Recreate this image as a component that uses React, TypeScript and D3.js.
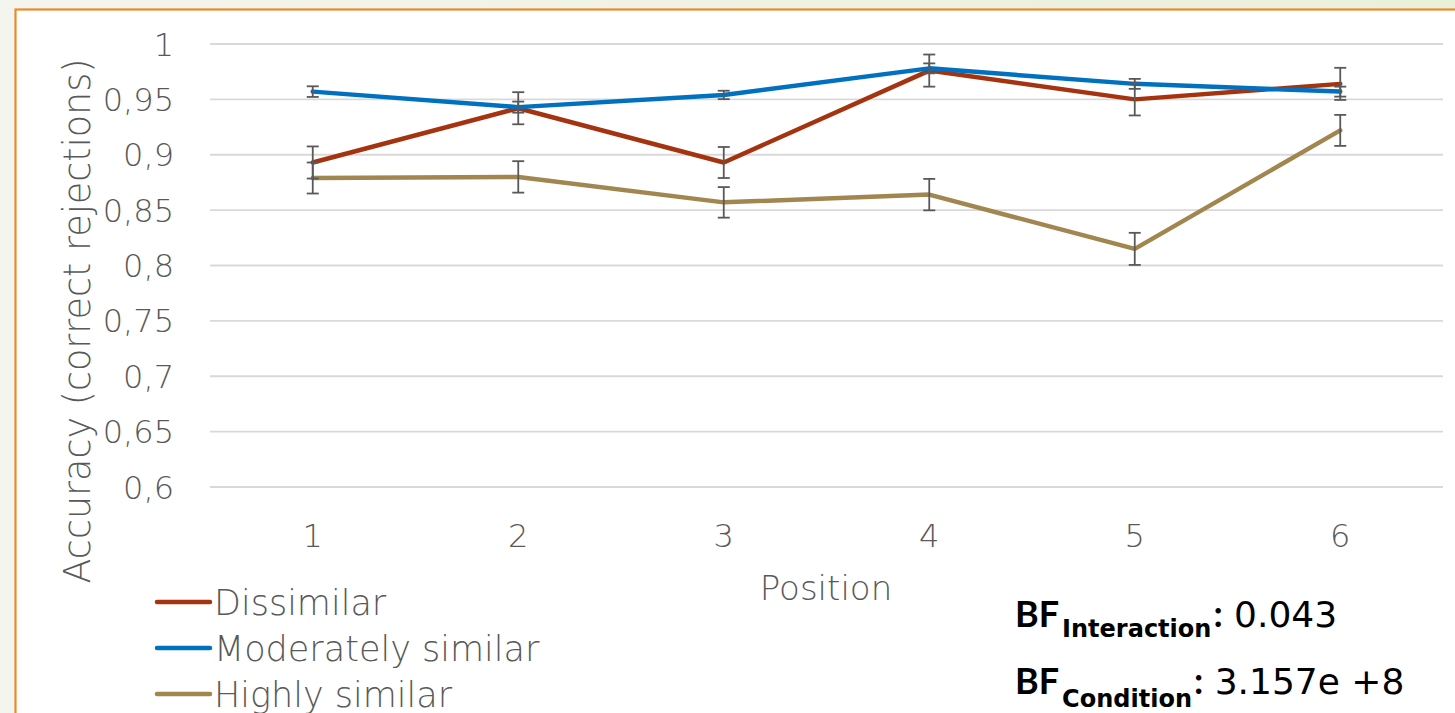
import React, { useEffect, useRef } from "react";
import * as d3 from "d3";

// chart data
const positions = ["1", "2", "3", "4", "5", "6"];
const dissimilar = [0.893, 0.942, 0.893, 0.976, 0.95, 0.964];
const dissimilarErr = [0.0145, 0.0145, 0.014, 0.0145, 0.0145, 0.0145];
const moderately = [0.957, 0.943, 0.954, 0.978, 0.964, 0.957];
const moderatelyErr = [0.0048, 0.005, 0.0038, 0.0045, 0.0045, 0.0045];
const highly = [0.879, 0.88, 0.857, 0.864, 0.815, 0.922];
const highlyErr = [0.014, 0.0142, 0.0138, 0.0142, 0.0145, 0.014];
const yTicks = [0.6, 0.65, 0.7, 0.75, 0.8, 0.85, 0.9, 0.95, 1];
const seriesNames = ["Dissimilar", "Moderately similar", "Highly similar"];
const seriesColors = ["#a5330f", "#0070c0", "#a2864f"];

const FONT = "'Century Gothic', 'DejaVu Sans', sans-serif";
const BOLD_FONT = "'Century Gothic', Lato, sans-serif";

export default function App() {
  const ref = useRef<SVGSVGElement | null>(null);

  useEffect(() => {
    const svgWidth = 1455,
      svgHeight = 713;
    const svg = d3.select(ref.current).attr("width", svgWidth).attr("height", svgHeight);
    svg.selectAll("*").remove();

    // slide background + white chart frame
    const defs = svg.append("defs");
    const grad = defs.append("linearGradient").attr("id", "bg").attr("x1", 0).attr("x2", 1);
    grad.append("stop").attr("offset", "0%").attr("stop-color", "#f4f5ee");
    grad.append("stop").attr("offset", "100%").attr("stop-color", "#e9f0da");
    svg.append("rect").attr("width", svgWidth).attr("height", svgHeight).attr("fill", "url(#bg)");
    svg
      .append("rect")
      .attr("x", 15.5)
      .attr("y", 9.5)
      .attr("width", svgWidth)
      .attr("height", svgHeight)
      .attr("fill", "#ffffff")
      .attr("stroke", "#ea8a2c")
      .attr("stroke-width", 2.2);

    const xScale = d3.scaleBand().domain(positions).range([210, 1443]);
    const yScale = d3.scaleLinear().domain([0.6, 1]).range([487, 44]);
    const cx = (p: string) => (xScale(p) as number) + xScale.bandwidth() / 2;

    // gridlines
    svg
      .append("g")
      .selectAll("line")
      .data(yTicks)
      .enter()
      .append("line")
      .attr("x1", 210)
      .attr("x2", 1443)
      .attr("y1", (d) => yScale(d))
      .attr("y2", (d) => yScale(d))
      .attr("stroke", "#d9d9d9")
      .attr("stroke-width", 1.8);

    // y tick labels (comma decimals)
    const fmt = (d: number) => String(+d.toFixed(2)).replace(".", ",");
    svg
      .append("g")
      .selectAll("text")
      .data(yTicks)
      .enter()
      .append("text")
      .attr("x", 174)
      .attr("y", (d) => yScale(d))
      .attr("dy", "0.36em")
      .attr("text-anchor", "end")
      .attr("font-family", FONT)
      .attr("font-weight", 200)
      .attr("font-size", 32)
      .attr("fill", "#595959")
      .text(fmt);

    // x tick labels
    svg
      .append("g")
      .selectAll("text")
      .data(positions)
      .enter()
      .append("text")
      .attr("x", cx)
      .attr("y", 535)
      .attr("dy", "0.36em")
      .attr("text-anchor", "middle")
      .attr("font-family", FONT)
      .attr("font-weight", 200)
      .attr("font-size", 32)
      .attr("fill", "#595959")
      .text((d) => d);

    // axis titles
    svg
      .append("text")
      .attr("x", 826)
      .attr("y", 600)
      .attr("text-anchor", "middle")
      .attr("font-family", FONT)
      .attr("font-weight", 200)
      .attr("font-size", 34)
      .attr("fill", "#595959")
      .text("Position");
    svg
      .append("text")
      .attr("transform", "translate(90,321) rotate(-90)")
      .attr("text-anchor", "middle")
      .attr("font-family", FONT)
      .attr("font-weight", 200)
      .attr("font-size", 36.5)
      .attr("fill", "#595959")
      .text("Accuracy (correct rejections)");

    // lines
    const allValues = [dissimilar, moderately, highly];
    const allErrs = [dissimilarErr, moderatelyErr, highlyErr];
    const line = d3
      .line<number>()
      .x((d, i) => cx(positions[i]))
      .y((d) => yScale(d));
    allValues.forEach((vals, k) => {
      svg
        .append("path")
        .datum(vals)
        .attr("d", line)
        .attr("fill", "none")
        .attr("stroke", seriesColors[k])
        .attr("stroke-width", 4.5)
        .attr("stroke-linejoin", "round")
        .attr("stroke-linecap", "round");
    });

    // error bars on top
    const eg = svg.append("g").attr("stroke", "#595959").attr("stroke-width", 1.8);
    allValues.forEach((vals, k) => {
      vals.forEach((v, i) => {
        const x = cx(positions[i]);
        const e = allErrs[k][i];
        const y0 = yScale(v - e),
          y1 = yScale(v + e);
        eg.append("line").attr("x1", x).attr("x2", x).attr("y1", y0).attr("y2", y1);
        eg.append("line").attr("x1", x - 6).attr("x2", x + 6).attr("y1", y0).attr("y2", y0);
        eg.append("line").attr("x1", x - 6).attr("x2", x + 6).attr("y1", y1).attr("y2", y1);
      });
    });

    // legend
    const lg = svg.append("g");
    seriesNames.forEach((name, k) => {
      const y = 602 + k * 46;
      lg.append("line")
        .attr("x1", 157)
        .attr("x2", 210)
        .attr("y1", y)
        .attr("y2", y)
        .attr("stroke", seriesColors[k])
        .attr("stroke-width", 4.5)
        .attr("stroke-linecap", "round");
      lg.append("text")
        .attr("x", 214)
        .attr("y", y)
        .attr("dy", "0.36em")
        .attr("font-family", FONT)
        .attr("font-weight", 200)
        .attr("font-size", 35)
        .attr("fill", "#595959")
        .text(name);
    });

    // Bayes factor annotation
    const bf = [
      { sub: "Interaction", val: "0.043", y: 627, sh: 10 },
      { sub: "Condition", val: "3.157e +8", y: 694, sh: 13 },
    ];
    bf.forEach((b) => {
      const t = svg.append("text").attr("x", 1015).attr("y", b.y).attr("fill", "#000000");
      t.append("tspan")
        .attr("font-family", BOLD_FONT)
        .attr("font-weight", 700)
        .attr("font-size", 36)
        .text("BF");
      t.append("tspan")
        .attr("font-family", FONT)
        .attr("font-weight", 700)
        .attr("font-size", 24)
        .attr("dx", 3)
        .attr("dy", b.sh)
        .text(b.sub);
      t.append("tspan")
        .attr("font-family", BOLD_FONT)
        .attr("font-weight", 700)
        .attr("font-size", 36)
        .attr("dx", 2)
        .attr("dy", -b.sh)
        .text(":");
      t.append("tspan")
        .attr("font-family", FONT)
        .attr("font-weight", 400)
        .attr("font-size", 36)
        .text(" " + b.val);
    });
  }, []);

  return (
    <div style={{ position: "fixed", left: 0, top: 0 }}>
      <svg ref={ref} />
    </div>
  );
}
